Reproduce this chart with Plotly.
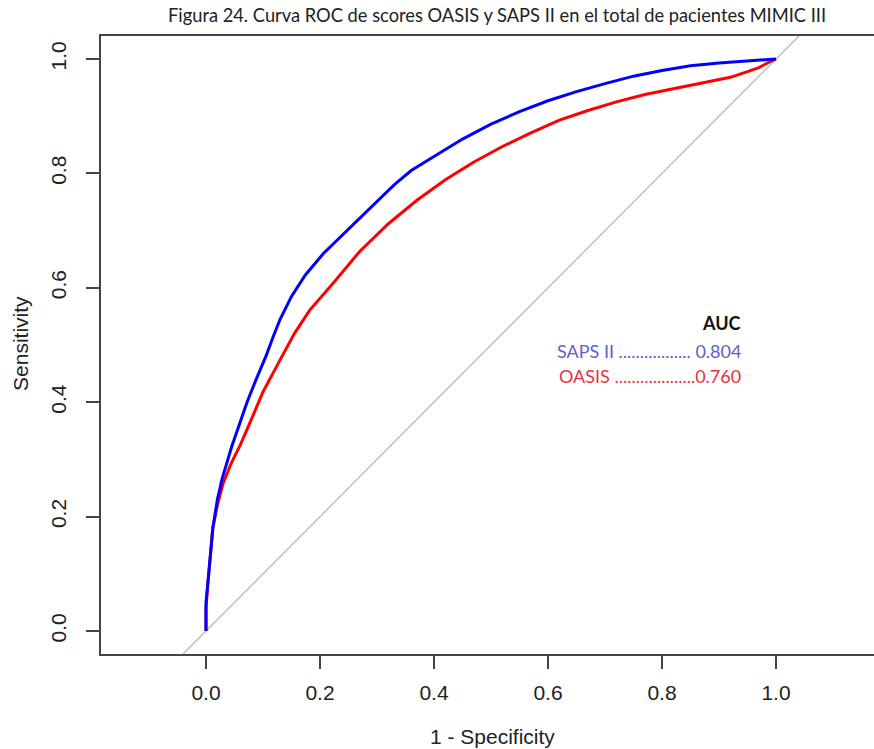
import plotly.graph_objects as go

# ---- data ----
saps_fpr = [0, 0, 0.002, 0.006, 0.012, 0.020, 0.028, 0.045, 0.058, 0.072, 0.088, 0.105,
            0.118, 0.130, 0.150, 0.174, 0.206, 0.253, 0.305, 0.33, 0.36, 0.40, 0.45, 0.50,
            0.55, 0.60, 0.65, 0.70, 0.75, 0.80, 0.85, 0.90, 0.95, 0.98, 1.0]
saps_tpr = [0, 0.05, 0.07, 0.12, 0.18, 0.23, 0.265, 0.322, 0.36, 0.40, 0.44, 0.48,
            0.515, 0.545, 0.585, 0.622, 0.660, 0.705, 0.755, 0.780, 0.805, 0.830, 0.860, 0.886,
            0.908, 0.927, 0.943, 0.957, 0.970, 0.980, 0.988, 0.993, 0.997, 0.999, 1.0]

oasis_fpr = [0, 0, 0.003, 0.007, 0.012, 0.020, 0.030, 0.045, 0.060, 0.077, 0.10, 0.13,
             0.155, 0.182, 0.223, 0.27, 0.32, 0.37, 0.42, 0.47, 0.52, 0.57, 0.62, 0.67,
             0.72, 0.77, 0.82, 0.87, 0.92, 0.95, 0.97, 0.985, 1.0]
oasis_tpr = [0, 0.04, 0.08, 0.13, 0.18, 0.22, 0.258, 0.295, 0.325, 0.364, 0.418, 0.474,
             0.52, 0.561, 0.608, 0.664, 0.712, 0.753, 0.789, 0.820, 0.847, 0.871, 0.893, 0.910,
             0.925, 0.938, 0.948, 0.958, 0.968, 0.978, 0.985, 0.993, 1.0]

series_names = ["SAPS II", "OASIS"]
auc_values = ["0.804", "0.760"]

ref_line = [-0.0402, 1.0402]  # chance diagonal y = x, across full plot extent

tick_vals = [0.0, 0.2, 0.4, 0.6, 0.8, 1.0]
tick_text = ["0.0", "0.2", "0.4", "0.6", "0.8", "1.0"]

title_text = "Figura 24. Curva ROC de scores OASIS y SAPS II en el total de pacientes MIMIC III"

# ---- figure ----
fig = go.Figure()
fig.add_trace(go.Scatter(x=ref_line, y=ref_line, mode="lines",
                         line=dict(color="#B4B4B4", width=1.2), hoverinfo="skip",
                         showlegend=False))
fig.add_trace(go.Scatter(x=oasis_fpr, y=oasis_tpr, mode="lines", name=series_names[1],
                         line=dict(color="#FF0000", width=3), showlegend=False))
fig.add_trace(go.Scatter(x=saps_fpr, y=saps_tpr, mode="lines", name=series_names[0],
                         line=dict(color="#0000FF", width=3), showlegend=False))

axis_font = dict(family="Liberation Sans, Arial, sans-serif", size=21, color="#222222")

fig.update_layout(
    width=874, height=749,
    margin=dict(l=101, r=0, t=36, b=95),
    paper_bgcolor="white", plot_bgcolor="white",
    font=axis_font,
    showlegend=False,
)
fig.update_xaxes(range=[-0.1842, 1.1719], tickvals=tick_vals, ticktext=tick_text,
                 showgrid=False, zeroline=False, showline=True, mirror=True,
                 linecolor="#444444", linewidth=2, ticks="outside", ticklen=13,
                 tickwidth=2, tickcolor="#444444", tickfont=axis_font,
                 ticklabelstandoff=6)
fig.update_yaxes(range=[-0.0402, 1.0402], tickvals=tick_vals, ticktext=tick_text,
                 showgrid=False, zeroline=False, showline=True, mirror=False,
                 linecolor="#444444", linewidth=2, ticks="outside", ticklen=13,
                 tickwidth=2, tickcolor="#444444", tickfont=axis_font, tickangle=-90,
                 ticklabelstandoff=12)

ann_font = dict(family="Lato, Open Sans, sans-serif", size=18)
fig.add_annotation(x=0.5, y=1, xref="paper", yref="paper", yshift=21, xshift=9,
                   showarrow=False, text=title_text, xanchor="center", yanchor="middle",
                   font=dict(family="Lato, Open Sans, sans-serif", size=18.3, color="#222222"))
fig.add_annotation(x=0.506, y=-0.134, xref="paper", yref="paper", showarrow=False,
                   text="1 - Specificity", xanchor="center", yanchor="middle", font=axis_font)
fig.add_annotation(x=-0.105, y=0.503, xref="paper", yref="paper", showarrow=False,
                   text="Sensitivity", textangle=-90, xanchor="center", yanchor="middle",
                   font=axis_font)

fig.add_annotation(x=0.942, y=0.539, xref="x", yref="y", showarrow=False, xanchor="right",
                   yanchor="middle", text="<b>AUC</b>", font=dict(ann_font, color="#111111"))
fig.add_annotation(x=0.942, y=0.490, xref="x", yref="y", showarrow=False, xanchor="right",
                   yanchor="middle", text=series_names[0] + " ................. " + auc_values[0],
                   font=dict(ann_font, color="#6060C8"))
fig.add_annotation(x=0.942, y=0.446, xref="x", yref="y", showarrow=False, xanchor="right",
                   yanchor="middle", text=series_names[1] + " ..................." + auc_values[1],
                   font=dict(ann_font, color="#E83040"))

fig.write_html("out.html")
